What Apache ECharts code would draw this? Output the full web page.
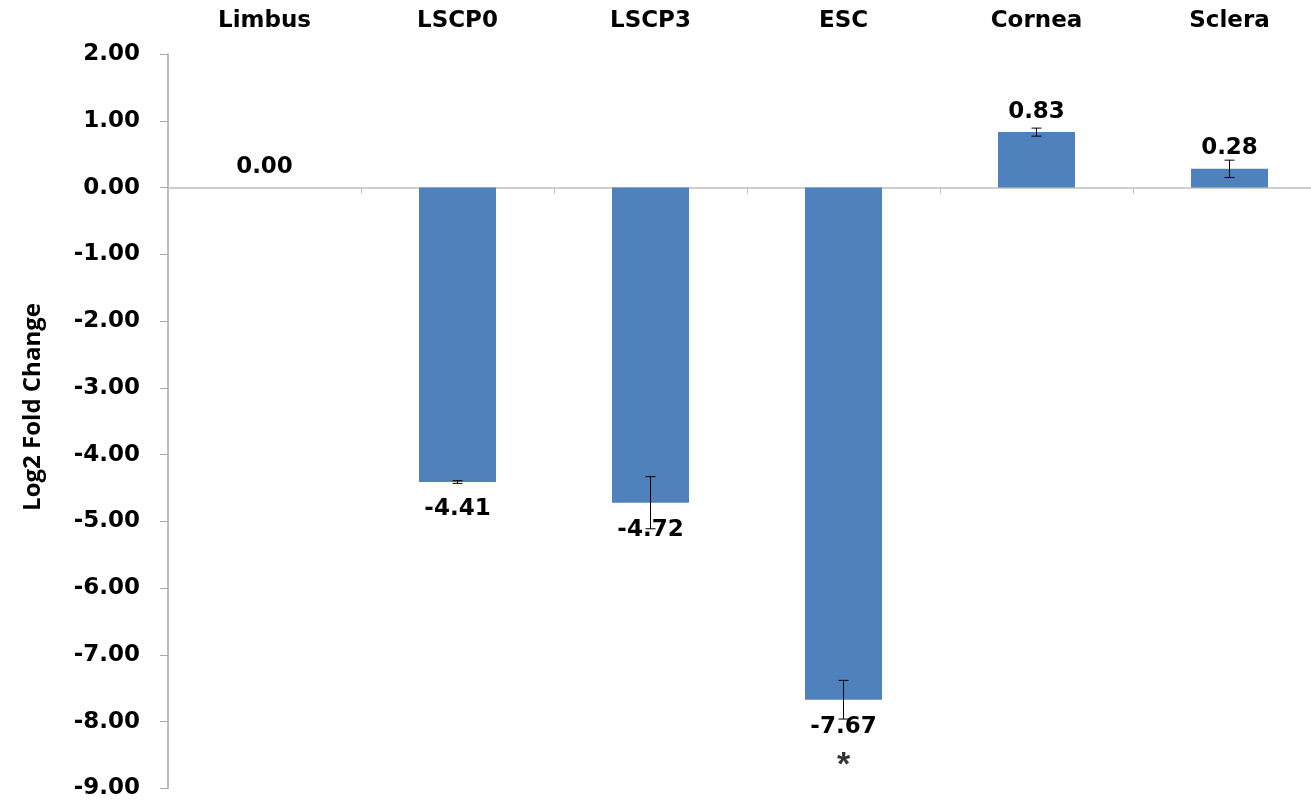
<!DOCTYPE html>
<html>
<head>
<meta charset="utf-8">
<title>Log2 Fold Change</title>
<script src="https://cdn.jsdelivr.net/npm/echarts@6/dist/echarts.min.js"></script>
<style>
  html, body { margin: 0; padding: 0; background: #ffffff; overflow: hidden; }
  /* the plot area runs a little past the right edge of the window */
  #chart { width: 1326px; height: 800px; }
</style>
</head>
<body>
<div id="chart"></div>
<script>
// Sample groups and their mean log2 fold change relative to Limbus
const categories = ['Limbus', 'LSCP0', 'LSCP3', 'ESC', 'Cornea', 'Sclera'];
const foldChange = [0.00, -4.41, -4.72, -7.67, 0.83, 0.28];
// Symmetric error (± around the mean) per group
const errorSize = [0.00, 0.02, 0.39, 0.29, 0.06, 0.13];
// Significance marker: group and the level it is written at
const significance = [['ESC', -8.65, '*']];
// Value-axis range and step
const yMin = -9, yMax = 2, yStep = 1;

const FONT = 'DejaVu Sans';
const BAR_COLOR = '#4f81bd';
const AXIS_GRAY = '#a6a6a6';

const errorData = categories.map((c, i) => [i, foldChange[i] - errorSize[i], foldChange[i] + errorSize[i]])
  .filter((d, i) => errorSize[i] > 0);

const chart = echarts.init(document.getElementById('chart'), null, { renderer: 'canvas' });

chart.setOption({
  animation: false,
  backgroundColor: '#ffffff',
  grid: { left: 168, top: 54, right: 0, bottom: 11, containLabel: false },
  graphic: [
    {
      type: 'text',
      x: 33,
      y: 407,
      rotation: Math.PI / 2,
      style: {
        text: 'Log2 Fold Change',
        fontFamily: 'Open Sans',
        fontWeight: 'bold',
        fontSize: 24,
        fill: '#000000',
        align: 'center',
        verticalAlign: 'middle'
      }
    }
  ],
  xAxis: [
    {
      type: 'category',
      data: categories,
      position: 'top',
      axisLine: { show: false },
      axisTick: { show: false },
      axisLabel: {
        margin: 21,
        fontFamily: FONT,
        fontWeight: 'bold',
        fontSize: 23,
        color: '#000000'
      }
    },
    {
      type: 'category',
      data: categories,
      position: 'bottom',
      axisLine: { show: true, onZero: true, onZeroAxisIndex: 0, lineStyle: { color: '#bfbfbf', width: 1.5 } },
      axisTick: { show: true, length: 6, lineStyle: { color: '#bfbfbf' } },
      axisLabel: { show: false }
    }
  ],
  yAxis: {
    type: 'value',
    min: yMin,
    max: yMax,
    interval: yStep,
    axisLine: { show: true, onZero: false, lineStyle: { color: AXIS_GRAY, width: 1.5 } },
    axisTick: { show: true, length: 8, lineStyle: { color: AXIS_GRAY } },
    splitLine: { show: false },
    axisLabel: {
      margin: 28,
      fontFamily: FONT,
      fontWeight: 'bold',
      fontSize: 23,
      color: '#000000',
      formatter: v => v.toFixed(2)
    }
  },
  series: [
    {
      type: 'bar',
      xAxisIndex: 0,
      barWidth: 77,
      itemStyle: { color: BAR_COLOR },
      data: foldChange.map(v => ({
        value: v,
        label: {
          show: true,
          position: v < 0 ? 'bottom' : 'top',
          distance: v < 0 ? 16 : 9,
          fontFamily: FONT,
          fontWeight: 'bold',
          fontSize: 23,
          color: '#000000',
          formatter: p => p.value.toFixed(2)
        }
      })),
      z: 2
    },
    {
      type: 'custom',
      xAxisIndex: 0,
      clip: false,
      z: 5,
      data: errorData,
      encode: { x: 0, y: [1, 2] },
      renderItem: function (params, api) {
        const x = api.coord([api.value(0), 0])[0];
        const lo = api.coord([api.value(0), api.value(1)])[1];
        const hi = api.coord([api.value(0), api.value(2)])[1];
        const cap = 5;
        const style = { stroke: '#000000', lineWidth: 1 };
        return {
          type: 'group',
          children: [
            { type: 'line', shape: { x1: x, y1: hi, x2: x, y2: lo }, style },
            { type: 'line', shape: { x1: x - cap, y1: hi, x2: x + cap, y2: hi }, style },
            { type: 'line', shape: { x1: x - cap, y1: lo, x2: x + cap, y2: lo }, style }
          ]
        };
      }
    },
    {
      type: 'scatter',
      xAxisIndex: 0,
      symbolSize: 0,
      silent: true,
      data: significance.map(s => ({ value: [s[0], s[1]], name: s[2] })),
      label: {
        show: true,
        position: 'inside',
        formatter: p => p.name,
        fontFamily: 'Liberation Sans',
        fontWeight: 'bold',
        fontSize: 34,
        color: '#000000'
      }
    }
  ]
});
</script>
</body>
</html>
